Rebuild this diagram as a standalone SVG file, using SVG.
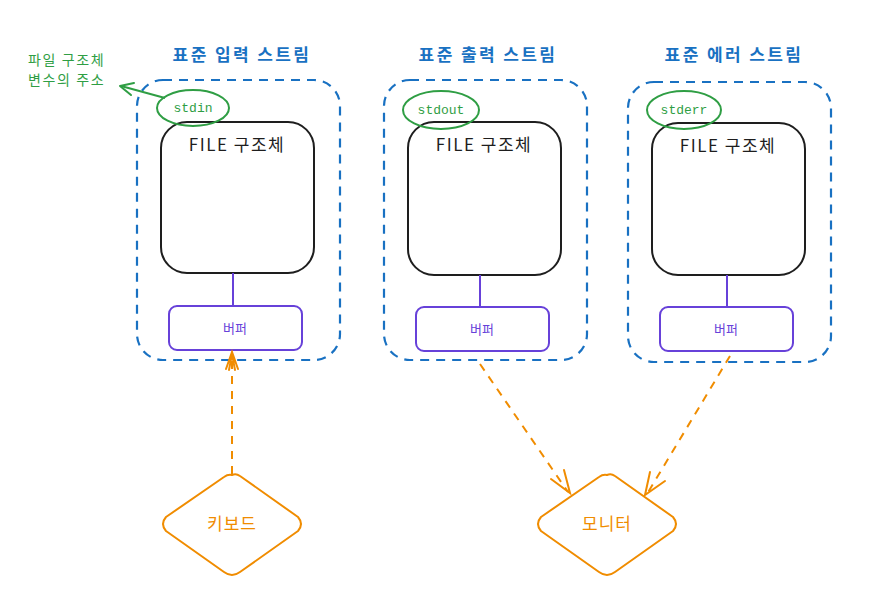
<svg xmlns="http://www.w3.org/2000/svg" width="883" height="611" viewBox="0 0 883 611">
<defs>
<style>
.cont{fill:none;stroke:#1971c2;stroke-width:2.2;stroke-dasharray:9 7;}
.title{font-family:"Noto Sans CJK KR","Noto Sans",sans-serif;font-size:17px;font-weight:bold;fill:#1971c2;text-anchor:middle;letter-spacing:2.4px;}
.ell{fill:none;stroke:#2f9e44;stroke-width:2;}
.etext{font-family:"Liberation Mono","DejaVu Sans Mono",monospace;font-size:13px;fill:#2f9e44;text-anchor:middle;}
.file{fill:none;stroke:#1e1e1e;stroke-width:2;}
.ftext{font-family:"Noto Sans CJK KR","Noto Sans",sans-serif;font-size:17px;fill:#1e1e1e;text-anchor:middle;letter-spacing:1.5px;}
.buf{fill:none;stroke:#6741d9;stroke-width:2;}
.btext{font-family:"Noto Sans CJK KR",sans-serif;font-size:13px;fill:#6741d9;text-anchor:middle;}
.link{stroke:#6741d9;stroke-width:2;fill:none;}
.dia{fill:none;stroke:#f08c00;stroke-width:2;stroke-linejoin:round;}
.dtext{font-family:"Noto Sans CJK KR",sans-serif;font-size:17px;fill:#f08c00;text-anchor:middle;letter-spacing:1px;}
.arr{fill:none;stroke:#f08c00;stroke-width:2;stroke-dasharray:8 7;}
.head{fill:none;stroke:#f08c00;stroke-width:2;stroke-linecap:round;}
.note{font-family:"Noto Sans CJK KR",sans-serif;font-size:14px;fill:#2f9e44;letter-spacing:1.6px;}
</style>
</defs>

<g id="annotation">
<text class="note" x="28" y="65">파일 구조체</text>
<text class="note" x="28" y="85">변수의 주소</text>
</g>

<g id="stdin-stream">
<text class="title" x="242" y="61">표준 입력 스트림</text>
<rect class="cont" x="137" y="80" width="203" height="280" rx="26"/>
<rect class="file" x="161" y="122" width="153" height="151" rx="26"/>
<text class="ftext" x="237" y="151">FILE 구조체</text>
<ellipse class="ell" cx="193" cy="108" rx="36" ry="18"/>
<text class="etext" x="193" y="112">stdin</text>
<rect class="buf" x="169" y="306" width="133" height="44" rx="8"/>
<text class="btext" x="235" y="333">버퍼</text>
</g>

<g id="stdout-stream">
<text class="title" x="488" y="61">표준 출력 스트림</text>
<rect class="cont" x="384" y="80" width="203" height="280" rx="26"/>
<rect class="file" x="408" y="122" width="153" height="153" rx="26"/>
<text class="ftext" x="484" y="151">FILE 구조체</text>
<ellipse class="ell" cx="441" cy="110" rx="38" ry="19"/>
<text class="etext" x="441" y="114">stdout</text>
<rect class="buf" x="416" y="307" width="133" height="44" rx="8"/>
<text class="btext" x="482" y="334">버퍼</text>
</g>

<g id="stderr-stream">
<text class="title" x="734" y="61">표준 에러 스트림</text>
<rect class="cont" x="628" y="82" width="203" height="280" rx="26"/>
<rect class="file" x="652" y="123" width="153" height="152" rx="26"/>
<text class="ftext" x="728" y="152">FILE 구조체</text>
<ellipse class="ell" cx="684" cy="110" rx="37" ry="19"/>
<text class="etext" x="684" y="114">stderr</text>
<rect class="buf" x="660" y="307" width="133" height="44" rx="8"/>
<text class="btext" x="726" y="334">버퍼</text>
</g>

<g id="keyboard">
<path class="dia" d="M232 475 Q236 473 240 476 L298 517 Q304 524 298 531 L240 572 Q232 578 224 572 L166 531 Q160 524 166 517 L224 477 Q228 474 232 475 Z"/>
<text class="dtext" x="232" y="530">키보드</text>
</g>

<g id="monitor">
<path class="dia" d="M607 475 Q611 473 615 476 L673 517 Q679 524 673 531 L615 572 Q607 578 599 572 L541 531 Q535 524 541 517 L599 477 Q603 474 607 475 Z"/>
<text class="dtext" x="607" y="530">모니터</text>
</g>

<g id="connectors">
<line class="link" x1="233" y1="273" x2="233" y2="306"/>
<line class="link" x1="480" y1="275" x2="480" y2="307"/>
<line class="link" x1="727" y1="275" x2="727" y2="307"/>
<path d="M165 98 L121 86" fill="none" stroke="#2f9e44" stroke-width="2"/>
<path d="M131 95 L120 86 L134 83" fill="none" stroke="#2f9e44" stroke-width="2" stroke-linecap="round" stroke-linejoin="round"/>
<line class="arr" x1="232" y1="474" x2="232" y2="354"/>
<path class="head" d="M226 369 L232 352 L238 369 M229 370 L232 354 L235 370"/>
<line class="arr" x1="480" y1="364" x2="568" y2="492"/>
<path class="head" d="M551 479 L570 493 L564 470"/>
<line class="arr" x1="730" y1="356" x2="647" y2="494"/>
<path class="head" d="M650 472 L645 495 L665 481"/>
</g>
</svg>
